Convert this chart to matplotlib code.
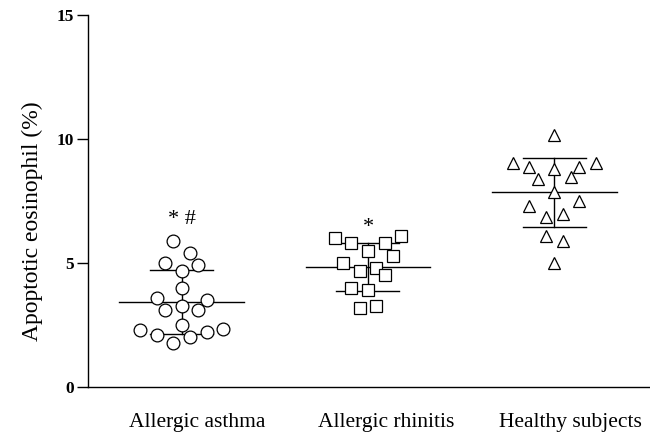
import numpy as np
from matplotlib import pyplot as plt

plt.rcParams['font.family'] = ['Liberation Serif', 'DejaVu Serif']

groups = ['Allergic asthma', 'Allergic rhinitis', 'Healthy subjects']

# values, with horizontal slot (beeswarm column) of each point
asthma = [5.9, 5.42, 5.01, 4.92, 4.69, 4.0, 3.6, 3.51, 3.1, 3.28, 3.1, 2.5,
          2.3, 2.1, 1.79, 2.03, 2.23, 2.33]
asthma_slot = [-1, 1, -2, 2, 0, 0, -3, 3, -2, 0, 2, 0, -5, -3, -1, 1, 3, 5]

rhinitis = [6.0, 5.82, 5.82, 6.09, 5.5, 5.3, 5.01, 4.68, 4.81, 4.52, 4.0, 3.91,
            3.2, 3.28]
rhinitis_slot = [-4, -2, 2, 4, 0, 3, -3, -1, 1, 2, -2, 0, -1, 1]

healthy = [10.16, 9.02, 8.88, 8.78, 8.88, 9.02, 8.37, 8.48, 7.88, 7.3, 7.5,
           6.87, 6.96, 6.09, 5.89, 4.99]
healthy_slot = [0, -5, -3, 0, 3, 5, -2, 2, 0, -3, 3, -1, 1, -1, 1, 0]

means = [3.44, 4.83, 7.85]
sds = [1.29, 0.97, 1.39]
marks = ['* #', '*', '']
mark_y = [6.75, 6.45, 0]

values = [asthma, rhinitis, healthy]
slots = [asthma_slot, rhinitis_slot, healthy_slot]
markers = ['o', 's', '^']


def execute():
    fig = plt.figure(figsize=(6.5, 4.34), dpi=100)
    ax = fig.add_axes([88 / 650, 1 - 387 / 434, 1 - 88 / 650, (387 - 15) / 434])

    step = 8.35 / 186.3
    for i, (vals, sl, mk) in enumerate(zip(values, slots, markers)):
        pos = i + 1
        x = pos + np.array(sl) * step
        size = 9.2 if mk == 'o' else (8.6 if mk == 's' else 9.0)
        ax.plot(x, vals, linestyle='none', marker=mk, markersize=size,
                markerfacecolor='white', markeredgecolor='black',
                markeredgewidth=0.9, zorder=3)

        # mean and SD
        ax.plot([pos - 0.335, pos + 0.335], [means[i], means[i]],
                color='black', lw=1.0, zorder=2)
        ax.plot([pos, pos], [means[i] - sds[i], means[i] + sds[i]],
                color='black', lw=1.0, zorder=2)
        for y in (means[i] - sds[i], means[i] + sds[i]):
            ax.plot([pos - 0.169, pos + 0.169], [y, y],
                    color='black', lw=1.0, zorder=2)

        if marks[i]:
            ax.text(pos, mark_y[i], marks[i], ha='center', va='center',
                    fontsize=16)

    ax.set_xlim(0.497, 3.514)
    ax.set_ylim(0, 15)
    ax.set_yticks([0, 5, 10, 15])
    ax.set_yticklabels(['0', '5', '10', '15'], fontweight='bold', fontsize=12.5)
    ax.tick_params(axis='y', length=8, width=1, pad=2)
    ax.set_xticks([1.084, 2.096, 3.089])
    ax.set_xticklabels(groups, fontsize=15.5)
    ax.tick_params(axis='x', length=0, pad=19)
    ax.spines['top'].set_visible(False)
    ax.spines['right'].set_visible(False)
    ax.spines['left'].set_linewidth(1.0)
    ax.spines['bottom'].set_linewidth(1.0)
    fig.text(32 / 650, 1 - 221 / 434, 'Apoptotic eosinophil (%)', rotation=90,
             ha='center', va='center', fontsize=17)

    fig.savefig('out.png', dpi=100)


if __name__ == '__main__':
    execute()
